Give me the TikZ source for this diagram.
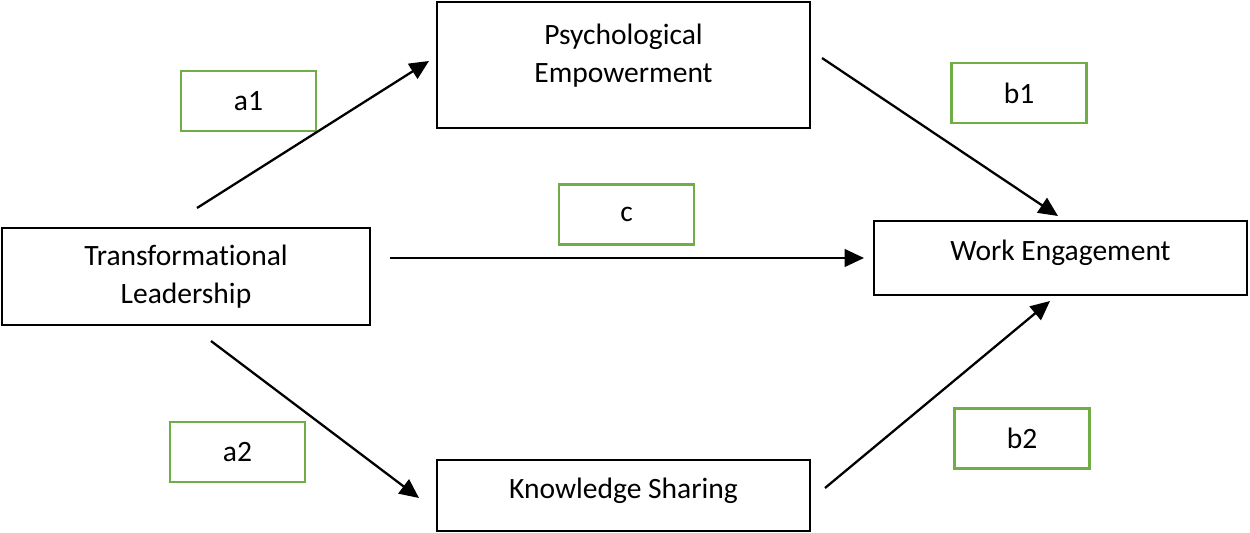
\documentclass[tikz,border=0pt]{standalone}
\usepackage{fontspec}
\setmainfont{Carlito}[Ligatures=NoCommon]
\usetikzlibrary{arrows.meta}

\begin{document}
\begin{tikzpicture}[x=0.02cm, y=-0.02cm]
    % Define display style
    \tikzstyle{construct}=[draw, line width=1.5pt, align=center, inner sep=0pt, font=\fontsize{16.8}{21.6}\selectfont]
    \tikzstyle{pathbox}=[draw=pathgreen, line width=1.2pt, minimum width=2.7cm, minimum height=1.2cm, inner sep=0pt, font=\fontsize{16.8}{19}\selectfont]
    \tikzstyle{effectarrow}=[-{Triangle[length=11pt, width=10pt]}, line width=1.3pt]
    \definecolor{pathgreen}{RGB}{112,173,71}

    % Fix the margins
    \useasboundingbox (0,0) rectangle (1250,533);

    % Draw the constructs
    \node[construct, minimum width=7.36cm, minimum height=1.94cm] (TL) at (186,276.5) {Transformational\\Leadership};
    \node[construct, minimum width=7.46cm, minimum height=2.52cm, text depth=0.47cm] (PE) at (623.5,65) {Psychological\\Empowerment};
    \node[construct, minimum width=7.46cm, minimum height=1.48cm, text depth=0.31cm] (WE) at (1060.5,258) {Work Engagement};
    \node[construct, minimum width=7.46cm, minimum height=1.42cm, text depth=0.31cm] (KS) at (623.5,495.5) {Knowledge Sharing};

    % Draw the path labels
    \node[pathbox] (a1) at (248.5,101) {a1};
    \node[pathbox] (b1) at (1019,93) {b1};
    \node[pathbox] (c)  at (626.5,214.5) {c};
    \node[pathbox] (a2) at (237.5,452) {a2};
    \node[pathbox] (b2) at (1022,438.5) {b2};

    % Define the free ends of the arrows
    \coordinate (TLup)    at (197,208);
    \coordinate (PEin)    at (429,61);
    \coordinate (PEout)   at (822,58);
    \coordinate (WEtop)   at (1058,216);
    \coordinate (TLright) at (390,258);
    \coordinate (WEleft)  at (864,258);
    \coordinate (TLdown)  at (211,341);
    \coordinate (KSin)    at (419,498);
    \coordinate (KSout)   at (825,488);
    \coordinate (WEbot)   at (1050,301);

    % Draw the effects
    \draw[effectarrow] (TLup) -- (PEin);
    \draw[effectarrow] (PEout) -- (WEtop);
    \draw[effectarrow] (TLright) -- (WEleft);
    \draw[effectarrow] (TLdown) -- (KSin);
    \draw[effectarrow] (KSout) -- (WEbot);
\end{tikzpicture}
\end{document}
